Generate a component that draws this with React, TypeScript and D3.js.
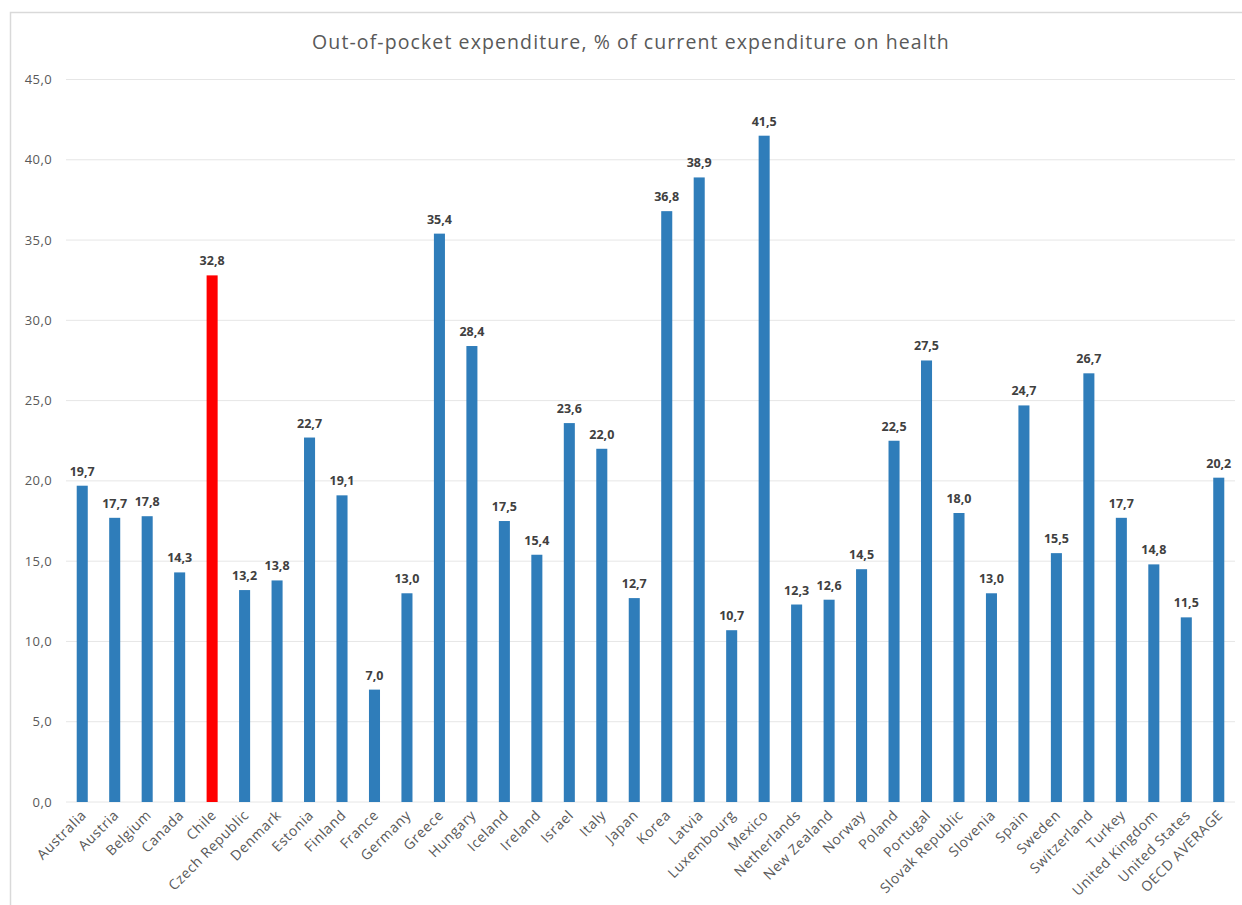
import React from "react";
import * as d3 from "d3";

const categories = ["Australia","Austria","Belgium","Canada","Chile","Czech Republic","Denmark","Estonia","Finland","France","Germany","Greece","Hungary","Iceland","Ireland","Israel","Italy","Japan","Korea","Latvia","Luxembourg","Mexico","Netherlands","New Zealand","Norway","Poland","Portugal","Slovak Republic","Slovenia","Spain","Sweden","Switzerland","Turkey","United Kingdom","United States","OECD AVERAGE"];
const values = [19.7,17.7,17.8,14.3,32.8,13.2,13.8,22.7,19.1,7.0,13.0,35.4,28.4,17.5,15.4,23.6,22.0,12.7,36.8,38.9,10.7,41.5,12.3,12.6,14.5,22.5,27.5,18.0,13.0,24.7,15.5,26.7,17.7,14.8,11.5,20.2];
const highlight = ["Chile"];
const yTicks = [0,5,10,15,20,25,30,35,40,45];
const title = "Out-of-pocket expenditure, % of current expenditure on health";

const fmt = (v: number) => v.toFixed(1).replace(".", ",");

export default function App() {
  const W = 1242, H = 905;
  const left = 66, right = 1235, top = 79.5, bottom = 802;
  const x = d3.scaleBand<string>().domain(categories).range([left, right]).paddingInner(0.66).paddingOuter(0.33);
  const y = d3.scaleLinear().domain([0, 45]).range([bottom, top]);
  const font = "'Open Sans', Lato, sans-serif";
  return (
    <svg width={W} height={H} style={{ position: "absolute", left: 0, top: 0, background: "#fff" }} fontFamily={font}>
      <rect x={10.5} y={12.5} width={1300} height={1000} fill="#fff" stroke="#d9d9d9" strokeWidth={1.5} />
      <text x={631} y={49} textAnchor="middle" fontSize={19.5} letterSpacing={1.1} fill="#595959">{title}</text>
      {yTicks.map((t) => (
        <g key={t}>
          <line x1={left} x2={right} y1={y(t)} y2={y(t)} stroke="#e6e6e6" strokeWidth={1} />
          <text x={52} y={y(t)} dy="0.35em" textAnchor="end" fontSize={13} letterSpacing={0.4} fill="#595959">{fmt(t)}</text>
        </g>
      ))}
      {categories.map((c, i) => {
        const bx = x(c)!;
        const v = values[i];
        const cx = bx + x.bandwidth() / 2;
        return (
          <g key={c}>
            <rect x={bx} y={y(v)} width={x.bandwidth()} height={bottom - y(v)} fill={highlight.includes(c) ? "#ff0000" : "#2f7dba"} />
            <text x={cx} y={y(v) - 10} textAnchor="middle" fontSize={12.5} fontWeight="bold" fill="#404040">{fmt(v)}</text>
            <text transform={`translate(${cx + 5},${bottom + 14}) rotate(-45)`} textAnchor="end" fontSize={14} letterSpacing={0.6} fill="#595959">{c}</text>
          </g>
        );
      })}
    </svg>
  );
}
